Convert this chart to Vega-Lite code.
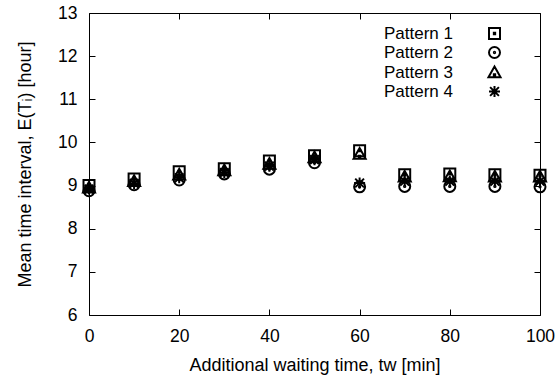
{
  "$schema": "https://vega.github.io/schema/vega-lite/v6.json",
  "autosize": {"type": "none"},
  "width": 451,
  "height": 302,
  "padding": {"left": 89, "top": 13, "right": 20, "bottom": 63},
  "background": "white",
  "config": {
    "font": "Liberation Sans",
    "view": {"stroke": "black", "strokeWidth": 1},
    "axis": {
      "grid": false,
      "domain": false,
      "tickColor": "black",
      "tickSize": -6,
      "tickWidth": 1,
      "labelColor": "black",
      "labelFontSize": 17.5,
      "labelFont": "Liberation Sans",
      "labelFlush": false,
      "titleFont": "Liberation Sans",
      "titleFontSize": 18,
      "titleFontWeight": "normal",
      "titleColor": "black",
      "labelPadding": 18
    }
  },
  "data": {
    "values": [
      {"t": 0, "p": "Pattern 1", "v": 9.0},
      {"t": 10, "p": "Pattern 1", "v": 9.15},
      {"t": 20, "p": "Pattern 1", "v": 9.32},
      {"t": 30, "p": "Pattern 1", "v": 9.39},
      {"t": 40, "p": "Pattern 1", "v": 9.57},
      {"t": 50, "p": "Pattern 1", "v": 9.69},
      {"t": 60, "p": "Pattern 1", "v": 9.81},
      {"t": 70, "p": "Pattern 1", "v": 9.25},
      {"t": 80, "p": "Pattern 1", "v": 9.27},
      {"t": 90, "p": "Pattern 1", "v": 9.25},
      {"t": 100, "p": "Pattern 1", "v": 9.24},
      {"t": 0, "p": "Pattern 2", "v": 8.88},
      {"t": 10, "p": "Pattern 2", "v": 9.02},
      {"t": 20, "p": "Pattern 2", "v": 9.13},
      {"t": 30, "p": "Pattern 2", "v": 9.27},
      {"t": 40, "p": "Pattern 2", "v": 9.38},
      {"t": 50, "p": "Pattern 2", "v": 9.53},
      {"t": 60, "p": "Pattern 2", "v": 8.97},
      {"t": 70, "p": "Pattern 2", "v": 8.98},
      {"t": 80, "p": "Pattern 2", "v": 8.98},
      {"t": 90, "p": "Pattern 2", "v": 8.98},
      {"t": 100, "p": "Pattern 2", "v": 8.97},
      {"t": 0, "p": "Pattern 3", "v": 8.95},
      {"t": 10, "p": "Pattern 3", "v": 9.1},
      {"t": 20, "p": "Pattern 3", "v": 9.25},
      {"t": 30, "p": "Pattern 3", "v": 9.35},
      {"t": 40, "p": "Pattern 3", "v": 9.5},
      {"t": 50, "p": "Pattern 3", "v": 9.65},
      {"t": 60, "p": "Pattern 3", "v": 9.73},
      {"t": 70, "p": "Pattern 3", "v": 9.2},
      {"t": 80, "p": "Pattern 3", "v": 9.21},
      {"t": 90, "p": "Pattern 3", "v": 9.2},
      {"t": 100, "p": "Pattern 3", "v": 9.2},
      {"t": 0, "p": "Pattern 4", "v": 8.92},
      {"t": 10, "p": "Pattern 4", "v": 9.05},
      {"t": 20, "p": "Pattern 4", "v": 9.18},
      {"t": 30, "p": "Pattern 4", "v": 9.3},
      {"t": 40, "p": "Pattern 4", "v": 9.45},
      {"t": 50, "p": "Pattern 4", "v": 9.6},
      {"t": 60, "p": "Pattern 4", "v": 9.06},
      {"t": 70, "p": "Pattern 4", "v": 9.1},
      {"t": 80, "p": "Pattern 4", "v": 9.1},
      {"t": 90, "p": "Pattern 4", "v": 9.1},
      {"t": 100, "p": "Pattern 4", "v": 9.1}
    ]
  },
  "resolve": {"axis": {"x": "independent", "y": "independent"}},
  "layer": [
    {
      "mark": {"type": "point", "filled": false, "stroke": "black", "strokeWidth": 2, "size": 121, "opacity": 1, "clip": false},
      "encoding": {
        "x": {"field": "t", "type": "quantitative", "scale": {"domain": [0, 100], "nice": false},
          "axis": {"orient": "bottom", "values": [0, 20, 40, 60, 80, 100], "title": "Additional waiting time, tw [min]", "titlePadding": 12}},
        "y": {"field": "v", "type": "quantitative", "scale": {"domain": [6, 13], "nice": false, "zero": false},
          "axis": {"orient": "left", "values": [6, 7, 8, 9, 10, 11, 12, 13], "title": "Mean time interval, E(Tᵢ) [hour]", "titlePadding": 23}},
        "shape": {"field": "p", "type": "nominal", "title": null,
          "scale": {"domain": ["Pattern 1", "Pattern 2", "Pattern 3", "Pattern 4"],
            "range": [
              "M-1,-1L1,-1L1,1L-1,1Z M-0.12,-0.12L0.12,-0.12L0.12,0.12L-0.12,0.12Z",
              "M-1,0A1,1,0,1,0,1,0A1,1,0,1,0,-1,0Z M-0.12,0A0.12,0.12,0,1,0,0.12,0A0.12,0.12,0,1,0,-0.12,0Z",
              "M0,-1.1L1.1,0.85L-1.1,0.85Z M-0.12,0.3L0.12,0.3L0.12,0.5L-0.12,0.5Z",
              "M-1,0L1,0M0,-1L0,1M-0.8,-0.8L0.8,0.8M-0.8,0.8L0.8,-0.8"
            ]},
          "legend": {
            "orient": "none",
            "legendX": 397,
            "legendY": 12,
            "padding": 0,
            "labelAlign": "right",
            "labelOffset": -50,
            "labelFontSize": 17,
            "labelFont": "Liberation Sans",
            "labelColor": "black",
            "rowPadding": 0,
            "symbolSize": 121,
            "symbolStrokeColor": "black",
            "symbolStrokeWidth": 2,
            "symbolFillColor": "transparent",
            "symbolOpacity": 1
          }}
      }
    },
    {
      "mark": {"type": "point", "opacity": 0},
      "encoding": {
        "x": {"field": "t", "type": "quantitative", "scale": {"domain": [0, 100], "nice": false},
          "axis": {"orient": "top", "values": [0, 20, 40, 60, 80, 100], "labels": false, "title": null}},
        "y": {"field": "v", "type": "quantitative", "scale": {"domain": [6, 13], "nice": false, "zero": false},
          "axis": {"orient": "right", "values": [6, 7, 8, 9, 10, 11, 12, 13], "labels": false, "title": null}}
      }
    }
  ]
}
